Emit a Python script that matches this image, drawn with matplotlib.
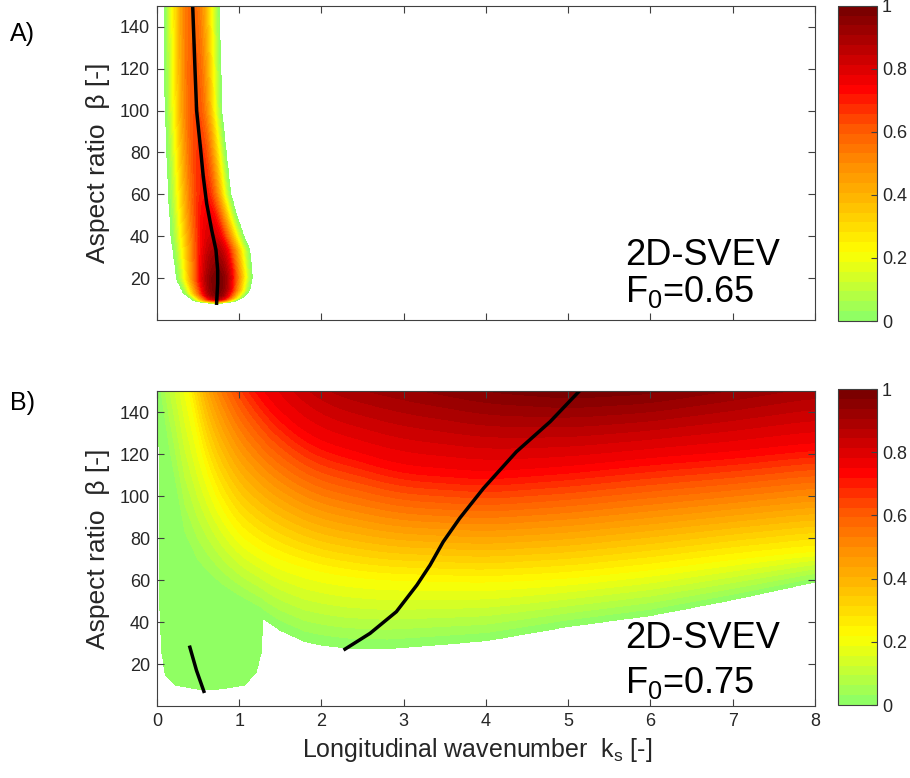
import numpy as np
import matplotlib
matplotlib.use("Agg")
import matplotlib.pyplot as plt
from matplotlib.colors import LinearSegmentedColormap

plt.rcParams['font.family'] = ['Liberation Sans', 'DejaVu Sans']
plt.rcParams['mathtext.fontset'] = 'custom'
plt.rcParams['mathtext.rm'] = 'Liberation Sans'
plt.rcParams['mathtext.it'] = 'Liberation Sans:italic'

# ---- panel A : band (edges, peak value) ----
left_A_beta = [7.8, 8.5, 9.3, 12.9, 19.3, 33.5, 40, 60, 100, 140, 150]
left_A_k = [0.70, 0.55, 0.44, 0.32, 0.24, 0.19, 0.17, 0.138, 0.097, 0.085, 0.085]
right_A_beta = [7.8, 9, 10.8, 14.3, 20.7, 33.5, 40, 49, 60, 81, 100, 140, 150]
right_A_k = [0.74, 0.95, 1.05, 1.13, 1.163, 1.13, 1.06, 0.98, 0.90, 0.84, 0.79, 0.766, 0.766]
peak_A_beta = [7.8, 9, 10, 12, 15, 20, 30, 40, 60, 100, 140, 150]
peak_A = [0.0, 0.55, 0.85, 0.97, 1.0, 1.0, 0.92, 0.82, 0.71, 0.63, 0.59, 0.58]

# black line A (ridge)
line_A_beta = [8.1, 17.6, 23.9, 33.5, 43, 55.7, 68.4, 81.2, 100, 120, 150]
line_A_k = [0.725, 0.738, 0.738, 0.717, 0.665, 0.604, 0.563, 0.531, 0.482, 0.462, 0.434]

# ---- panel B : beta position of the levels 0, 0.22, 0.74, 1.0 for each k ----
k_B = [0, 0.15, 0.34, 0.5, 0.8, 1.2, 1.29, 1.31, 1.5, 1.8, 2.0, 2.3, 2.8, 3.0, 4.0, 5.0, 6.0, 7.0, 8.0]
b_lev0 = [150, 110, 70, 60, 52, 44, 42, 41, 36, 30.6, 29, 27.5, 27.2, 27.8, 31, 37.8, 43, 50.5, 59]
b_lev22 = [260, 210, 150, 121, 89, 75, 74, 73, 70, 66, 64, 62, 60, 60, 59, 61, 65, 70, 74]
b_lev74 = [500, 350, 260, 220, 180, 150, 147, 146, 138, 128, 124, 121, 115, 113, 110, 113, 117, 120, 124]
b_lev100 = [700, 500, 400, 350, 300, 230, 220, 218, 200, 185, 176, 170, 166, 164, 155, 151, 153, 160, 168]

# green plateau of panel B (lower boundary)
k_plat = [0.015, 0.036, 0.057, 0.10, 0.22, 0.54, 0.79, 1.07, 1.21, 1.27, 1.29]
b_plat = [150, 40, 25.9, 14.8, 10, 7.6, 8.1, 10, 16.3, 25.9, 41]
plat_value = 0.012

# black lines B
line_B1_k = [0.40, 0.48, 0.57]
line_B1_beta = [28, 17, 7]
line_B2_k = [2.286, 2.59, 2.91, 3.16, 3.32, 3.48, 3.68, 3.97, 4.37, 4.78, 5.16]
line_B2_beta = [27.1, 34.6, 44.9, 57.6, 67.1, 78.2, 89.4, 103.7, 121.1, 135.4, 151]

cb_ticks = [0, 0.2, 0.4, 0.6, 0.8, 1]
cb_labels = ['0', '0.2', '0.4', '0.6', '0.8', '1']

cmap = LinearSegmentedColormap.from_list('gyr', [
    (0.00, (0.53, 1.00, 0.42)),
    (0.10, (0.75, 1.00, 0.22)),
    (0.22, (1.00, 1.00, 0.00)),
    (0.35, (1.00, 0.78, 0.00)),
    (0.50, (1.00, 0.55, 0.00)),
    (0.62, (1.00, 0.33, 0.00)),
    (0.74, (1.00, 0.00, 0.00)),
    (0.87, (0.72, 0.00, 0.00)),
    (1.00, (0.46, 0.00, 0.00)),
])
levels = np.linspace(0, 1, 33)

kg = np.linspace(0, 8, 1601)
bg = np.linspace(0, 150, 901)
K, Bt = np.meshgrid(kg, bg)

# field A
L = np.interp(Bt, left_A_beta, left_A_k)
R = np.interp(Bt, right_A_beta, right_A_k)
P = np.interp(Bt, peak_A_beta, peak_A)
C = np.interp(Bt, line_A_beta, line_A_k)
C = np.clip(C, L + 1e-3, R - 1e-3)
s = np.where(K < C, (C - K) / (C - L), (K - C) / (R - C))
FA = np.where((s < 1) & (Bt >= left_A_beta[0]), P * np.clip(1 - s**2, 0, 1) ** 1.5, np.nan)
FA[FA <= 0] = np.nan


def smooth(y, n):
    yp = np.pad(y, n, mode='edge')
    return np.convolve(yp, np.ones(2 * n + 1) / (2 * n + 1), mode='same')[n:-n]


# field B
z0 = np.interp(kg, k_B, b_lev0)
z1 = smooth(np.interp(kg, k_B, b_lev22), 60)
z2 = smooth(np.interp(kg, k_B, b_lev74), 60)
z3 = smooth(np.interp(kg, k_B, b_lev100), 60)
z0, z1, z2, z3 = [np.broadcast_to(z, K.shape) for z in (z0, z1, z2, z3)]
FB = np.select(
    [Bt < z0, Bt < z1, Bt < z2, Bt < z3],
    [-1.0, 0.22 * (Bt - z0) / (z1 - z0),
     0.22 + 0.52 * (Bt - z1) / (z2 - z1),
     0.74 + 0.26 * (Bt - z2) / (z3 - z2)],
    default=1.0)
plat = (K >= k_plat[0]) & (K <= k_plat[-1]) & (Bt >= np.interp(K, k_plat, b_plat))
FB = np.where(plat, np.maximum(FB, plat_value), FB)
FB = np.where(FB > 0, np.minimum(FB, 0.999), np.nan)

fig = plt.figure(figsize=(9.1, 7.78), dpi=100)
axA = fig.add_axes([0.1725, 0.5884, 0.7231, 0.4043])
axB = fig.add_axes([0.1725, 0.0925, 0.7231, 0.4049])
caxA = fig.add_axes([0.9209, 0.5874, 0.0429, 0.4053])
caxB = fig.add_axes([0.9209, 0.0938, 0.0429, 0.4062])

edge = '#404040'
for ax, F, cax in [(axA, FA, caxA), (axB, FB, caxB)]:
    cs = ax.contourf(kg, bg, F, levels=levels, cmap=cmap, vmin=0, vmax=1)
    ax.set_xlim(0, 8)
    ax.set_ylim(0, 150)
    ax.set_xticks(range(0, 9))
    ax.set_yticks(range(20, 141, 20))
    ax.tick_params(direction='in', top=True, right=True, length=5,
                   labelsize=13, colors=edge, labelcolor='#262626', pad=5)
    for sp in ax.spines.values():
        sp.set_color(edge)
    ax.set_ylabel('Aspect ratio  β [-]', fontsize=19, color='#262626')
    ax.yaxis.set_label_coords(-0.072, 0.5)
    cb = fig.colorbar(cs, cax=cax, ticks=cb_ticks)
    cb.ax.set_yticklabels(cb_labels)
    cb.ax.tick_params(direction='in', length=4, labelsize=13, colors=edge,
                      labelcolor='#262626')
    cb.outline.set_edgecolor(edge)

axA.set_xticklabels([])
axA.plot(line_A_k, line_A_beta, color='black', lw=2.5)
axB.plot(line_B1_k, line_B1_beta, color='black', lw=2.5)
axB.plot(line_B2_k, line_B2_beta, color='black', lw=2.5)

axB.set_xlabel(r'Longitudinal wavenumber  k$_\mathregular{s}$ [-]', fontsize=18, color='#262626')
axB.xaxis.set_label_coords(0.487, -0.095)

axA.text(5.69, 26.3, '2D-SVEV', fontsize=26, va='baseline')
axA.text(5.69, 8.8, r'F$_\mathregular{0}$=0.65', fontsize=26, va='baseline')
axB.text(5.69, 27.6, '2D-SVEV', fontsize=26, va='baseline')
axB.text(5.69, 6.2, r'F$_\mathregular{0}$=0.75', fontsize=26, va='baseline')

fig.text(0.011, 0.947, 'A)', fontsize=18, va='baseline')
fig.text(0.011, 0.473, 'B)', fontsize=18, va='baseline')

fig.savefig('out.png', dpi=100)
